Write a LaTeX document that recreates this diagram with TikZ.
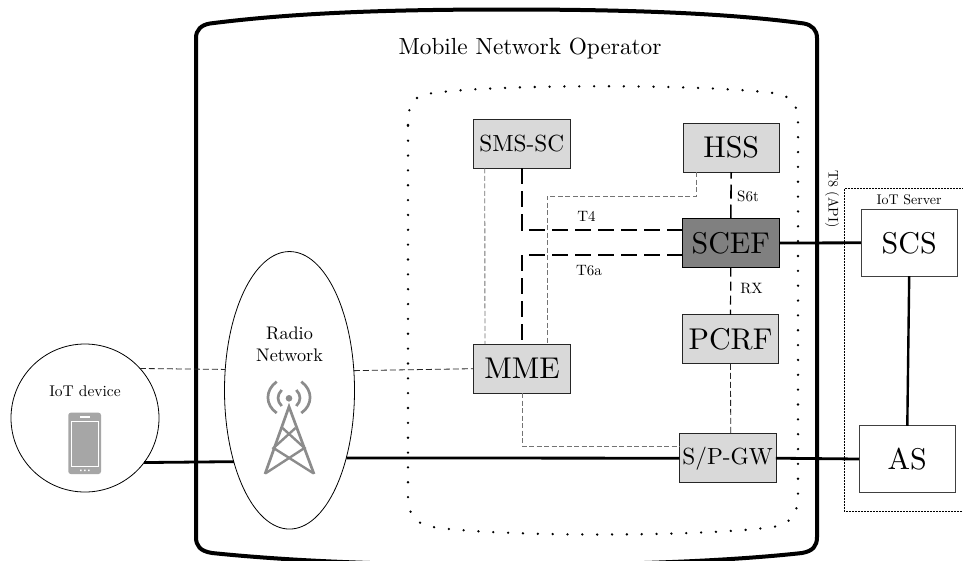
\documentclass[tikz,border=0pt]{standalone}
\usepackage{graphicx}
\usetikzlibrary{shapes.geometric}
\newcommand{\zz}[2]{\scalebox{#1}{#2}}
\definecolor{boxgray}{HTML}{D9D9D9}
\definecolor{icongray}{HTML}{8C8C8C}
\definecolor{phonegray}{HTML}{A6A6A6}
\tikzset{
  every node/.style={inner sep=0pt,outer sep=0pt},
  nf/.style={draw=black!85,line width=0.9pt,fill=boxgray,minimum width=96.5pt,minimum height=49pt},
  nfw/.style={draw=black!75,line width=0.9pt,fill=white,minimum width=96.5pt,minimum height=66.5pt},
  nfd/.style={draw=black,line width=0.9pt,fill=black!50,minimum width=96.5pt,minimum height=49pt},
  thick line/.style={line width=2.8pt,black},
  mid line/.style={line width=2pt,black,dash pattern=on 16pt off 7pt},
  mids line/.style={line width=1.2pt,black,dash pattern=on 9pt off 5pt},
  thin dash/.style={line width=0.8pt,black!85,dash pattern=on 6pt off 3pt},
  gray dash/.style={line width=0.9pt,black!55,dash pattern=on 5pt off 2.5pt},
  iconl/.style={line width=2.7pt,icongray},
}
\begin{document}
\begin{tikzpicture}[x=1pt,y=-1pt]
\clip (0,0) rectangle (963,560);
\fill[white] (0,0) rectangle (963,560);
% operator frame
\draw[line width=4pt,line join=round] (196,290) -- (196,38) .. controls (196,30) and (201,25) .. (210,23.5)
  .. controls (300,12) and (400,9.5) .. (507,9.5) .. controls (610,9.5) and (720,12) .. (804,23.5)
  .. controls (812,25) and (817,30) .. (817,38) -- (817,537) .. controls (817,546) and (813,551) .. (802,553)
  .. controls (720,562) and (610,565) .. (507,565) .. controls (400,565) and (300,562) .. (212,553)
  .. controls (200,551) and (196,546) .. (196,537) -- cycle;
% core network dotted frame
\draw[line width=2.6pt,line cap=round,dash pattern=on 0pt off 14.85pt]
  (408,125) .. controls (408,100) and (415,96) .. (433,93) .. controls (500,84) and (700,84) .. (773,93)
  .. controls (790,96) and (798,100) .. (798,125) -- (798,495) .. controls (798,515) and (790,524) .. (773,527)
  .. controls (700,537) and (500,537) .. (433,527) .. controls (415,524) and (408,515) .. (408,495) -- cycle;
% IoT server frame
\draw[line width=0.8pt,dash pattern=on 2pt off 1pt] (970,188.3) -- (844.3,188.3) -- (844.3,511) -- (970,511);
\node (opname) at (530,49) {\zz{2.33}{Mobile Network Operator}};
\node (iotsrvname) at (909,200) {\zz{1.4}{IoT Server}};
% big shapes
\node[circle,draw,line width=0.8pt,minimum size=148pt] (iot) at (85,418) {};
\node[ellipse,draw,line width=0.8pt,minimum width=130pt,minimum height=277.5pt] (radio) at (289.5,390.3) {};
% boxes
\node[nf] (sms) at (521.7,143.8) {\zz{2.33}{SMS-SC}};
\node[nf] (hss) at (731.2,147.5) {\zz{3}{HSS}};
\node[nfd] (scef) at (730.8,243) {\zz{3}{SCEF}};
\node[nf] (pcrf) at (730.5,339.3) {\zz{3}{PCRF}};
\node[nf] (mme) at (522,368.7) {\zz{3}{MME}};
\node[nf] (spgw) at (727.7,458.2) {\zz{2.33}{S/P-GW}};
\node[nfw] (scs) at (909.2,242.8) {\zz{3}{SCS}};
\node[nfw] (as) at (907.3,459) {\zz{3}{AS}};
% connectors
\draw[thin dash] (iot.42.5) -- (radio.162.7);
\draw[thin dash] (radio.17.3) -- (mme.west);
\draw[thick line] (iot.-37) -- (radio.232);
\draw[thick line] (radio.-50.7) -- (spgw.west);
\draw[thick line] (spgw.east) -- (as.west);
\draw[thick line] (scef.east) -- (scs.west);
\draw[line width=2.4pt] (scs.south) -- (as.north);
\draw[mid line] (sms.south) |- ([yshift=13pt]scef.west);
\draw[mid line] ([yshift=-12pt]scef.west) -| (mme.north);
\draw[gray dash] ([xshift=-37pt]sms.south) -- ([xshift=-37pt]mme.north);
\draw[gray dash] ([xshift=-35pt]hss.south) -- ++(0,24) -| ([xshift=25pt]mme.north);
\draw[mids line,line width=1.6pt,dash pattern=on 14pt off 6pt] (scef.north) -- (hss.south);
\draw[mids line] (scef.south) -- (pcrf.north);
\draw[thin dash] (pcrf.south) -- ([xshift=3pt]spgw.north);
\draw[gray dash] (mme.south) |- ([yshift=12pt]spgw.west);
% labels
\node (lt4) at (586.5,216) {\zz{1.5}{T4}};
\node (lt6a) at (589,271) {\zz{1.5}{T6a}};
\node (ls6t) at (748,196) {\zz{1.5}{S6t}};
\node (lrx) at (751.5,289) {\zz{1.5}{RX}};
\node[rotate=-90] (lt8) at (832,199) {\zz{1.4}{T8 (API)}};
\node (liot) at (85,391) {\zz{1.55}{IoT device}};
\node (lrad) at (289.5,333) {\zz{1.82}{Radio}};
\node (lnet) at (289.5,355) {\zz{1.82}{Network}};
% phone icon
\fill[phonegray,rounded corners=2.5pt] (68.3,412.7) rectangle (101,474);
\draw[white,line width=0.8pt] (71.5,421.5) rectangle (98.5,466);
\fill[white] (80,416.3) rectangle (90,417.8);
\fill[white] (80,469.5) rectangle +(1.6,1.6) (84,469.5) rectangle +(1.6,1.6) (88,469.5) rectangle +(1.6,1.6);
% antenna icon
\draw[iconl,line join=miter] (265,474) -- (289,406.7) -- (314,474);
\draw[iconl,line width=2.4pt] (282.5,428) -- (304.5,448) -- (266,473) (295.5,428) -- (273.5,448) -- (313,473);
\fill[icongray] (289,398.3) circle (3.3pt);
\draw[iconl] (281.7,390) .. controls (276.8,395) and (276.8,401) .. (281.7,406);
\draw[iconl] (296.3,390) .. controls (301.2,395) and (301.2,401) .. (296.3,406);
\draw[iconl] (276.7,381.7) .. controls (265,390) and (265,405) .. (276.7,413);
\draw[iconl] (301.3,381.7) .. controls (313,390) and (313,405) .. (301.3,413);
\end{tikzpicture}
\end{document}
